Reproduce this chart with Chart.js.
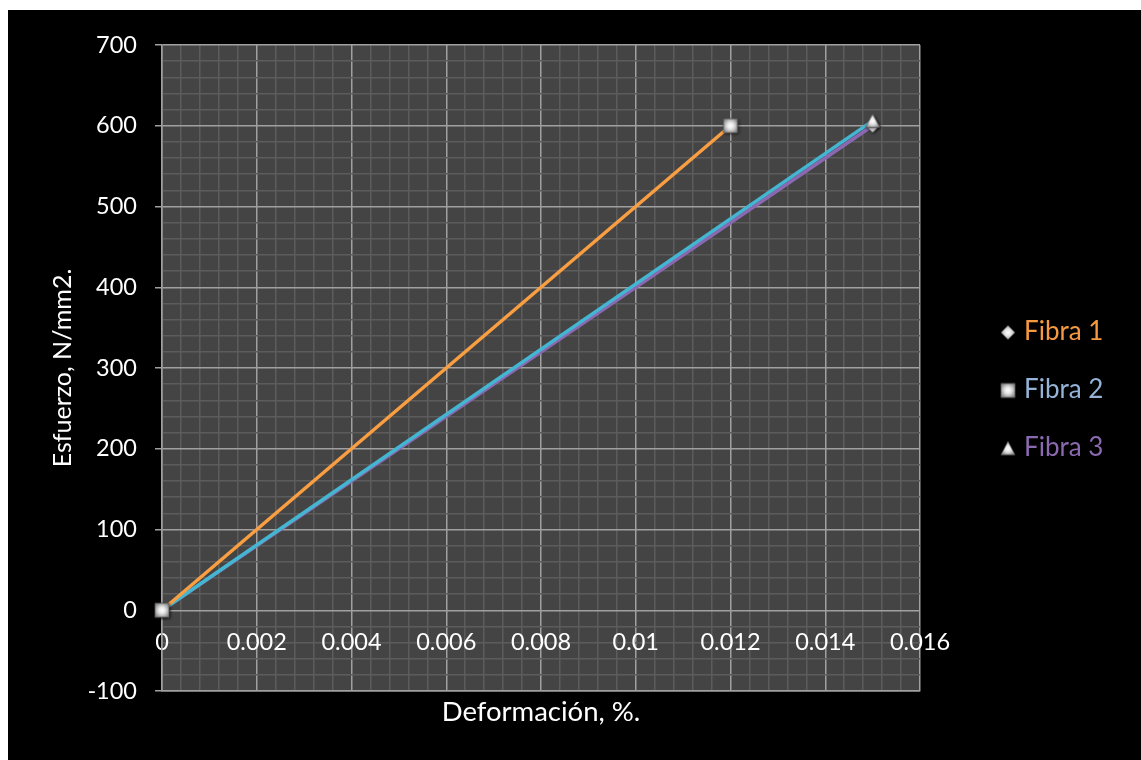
<!DOCTYPE html>
<html>
<head>
<meta charset="utf-8">
<title>Esfuerzo vs deformación</title>
<script src="https://cdn.jsdelivr.net/npm/chart.js@4/dist/chart.umd.min.js"></script>
<style>
  html, body { margin: 0; padding: 0; background: #ffffff; }
  #frame { position: absolute; left: 8px; top: 10px; width: 1133px; height: 750px; background: #000000; }
  #chart { display: block; }
</style>
</head>
<body>
<div id="frame"><canvas id="chart" width="1133" height="750"></canvas></div>
<script>
// Stress–strain readings for three fibres
const seriesNames = ['Fibra 1', 'Fibra 2', 'Fibra 3'];
const strainFibra1 = [0, 0.015];
const stressFibra1 = [0, 600];
const strainFibra2 = [0, 0.012];
const stressFibra2 = [0, 600];
const strainFibra3 = [0, 0.015];
const stressFibra3 = [0, 606];

// Axis ranges and tick labels
const strainTicks = [0, 0.002, 0.004, 0.006, 0.008, 0.01, 0.012, 0.014, 0.016];
const stressTicks = [-100, 0, 100, 200, 300, 400, 500, 600, 700];

const FONT = 'Lato, "Noto Sans", "DejaVu Sans", sans-serif';
Chart.defaults.font.family = FONT;
Chart.defaults.color = '#ffffff';

const lineColors = ['#8b68b2', '#fa9e42', '#43b6d2'];
const legendTextColors = ['#f7993f', '#95b3d7', '#8a69b0'];

// Bevelled grey marker drawn once and reused for points and legend
function markerImage(shape) {
  const size = 22, m = size / 2, r = 7;
  const c = document.createElement('canvas');
  c.width = c.height = size;
  const g = c.getContext('2d');
  g.beginPath();
  if (shape === 'diamond') {
    g.moveTo(m, m - r); g.lineTo(m + r, m); g.lineTo(m, m + r); g.lineTo(m - r, m);
  } else if (shape === 'square') {
    g.rect(m - r, m - r, 2 * r, 2 * r);
  } else {
    g.moveTo(m, m - r); g.lineTo(m + r, m + r * 0.9); g.lineTo(m - r, m + r * 0.9);
  }
  g.closePath();
  g.shadowColor = 'rgba(0,0,0,0.75)';
  g.shadowBlur = 3;
  g.shadowOffsetX = 1;
  g.shadowOffsetY = 1;
  const grad = g.createRadialGradient(m, m, 0, m, m, r * 1.35);
  grad.addColorStop(0, '#ffffff');
  grad.addColorStop(0.35, '#e4e4e4');
  grad.addColorStop(1, '#6f6f6f');
  g.fillStyle = grad;
  g.fill();
  g.shadowColor = 'transparent';
  g.lineWidth = 1;
  g.strokeStyle = 'rgba(90,90,90,0.8)';
  g.stroke();
  return c;
}
const markers = [markerImage('diamond'), markerImage('square'), markerImage('triangle')];

function toPoints(xs, ys) { return xs.map((x, i) => ({ x: x, y: ys[i] })); }

const isMajor = (v, step) => Math.abs(v / step - Math.round(v / step)) < 1e-6;
const MAJOR = '#a0a0a0', MINOR = '#5c5c5c';

// Legend on the right with its own text colours
const sideLegend = {
  id: 'sideLegend',
  afterDraw(chart) {
    const { ctx, chartArea } = chart;
    const x = chartArea.right + 88;
    ctx.save();
    ctx.font = '26px ' + FONT;
    ctx.textAlign = 'left';
    ctx.textBaseline = 'alphabetic';
    chart.data.datasets.forEach((ds, i) => {
      const y = chartArea.top + 285 + i * 58;
      const img = markers[i];
      ctx.drawImage(img, x - img.width / 2, y + 2.5 - img.height / 2);
      ctx.fillStyle = legendTextColors[i];
      ctx.fillText(ds.label, x + 16, y + 9.5);
    });
    ctx.restore();
  }
};

// Plot-area fill
const plotFill = {
  id: 'plotFill',
  beforeDraw(chart) {
    const { ctx, chartArea: a } = chart;
    ctx.save();
    ctx.fillStyle = '#444444';
    ctx.fillRect(a.left, a.top, a.right - a.left, a.bottom - a.top);
    ctx.restore();
  }
};

new Chart(document.getElementById('chart'), {
  type: 'line',
  data: {
    datasets: [
      { label: seriesNames[0], data: toPoints(strainFibra1, stressFibra1), borderColor: lineColors[0], pointStyle: markers[0], order: 2 },
      { label: seriesNames[1], data: toPoints(strainFibra2, stressFibra2), borderColor: lineColors[1], pointStyle: markers[1], order: 0 },
      { label: seriesNames[2], data: toPoints(strainFibra3, stressFibra3), borderColor: lineColors[2], pointStyle: markers[2], order: 1 }
    ]
  },
  options: {
    responsive: false,
    devicePixelRatio: 1,
    animation: false,
    events: [],
    layout: { padding: { top: 35, right: 221, bottom: 0, left: 0 } },
    datasets: {
      line: { borderWidth: 3.5, tension: 0, fill: false, clip: false, pointRadius: 7, showLine: true }
    },
    plugins: {
      legend: { display: false },
      tooltip: { enabled: false }
    },
    scales: {
      x: {
        type: 'linear',
        position: 'bottom',
        min: strainTicks[0],
        max: strainTicks[strainTicks.length - 1],
        afterFit: (s) => { s.height = 69; },
        ticks: { display: false, stepSize: 0.0004, autoSkip: false },
        grid: {
          drawTicks: false,
          lineWidth: 1.5,
          color: (c) => isMajor(c.tick.value, 0.002) ? MAJOR : MINOR
        },
        border: { display: true, color: MAJOR, width: 1.5 },
        title: {
          display: true,
          text: 'Deformación, %.',
          color: '#ffffff',
          font: { size: 27.5, lineHeight: 1.2 },
          padding: { top: 0, bottom: 31 }
        }
      },
      xLabels: {
        type: 'linear',
        axis: 'x',
        position: { y: 0 },
        min: strainTicks[0],
        max: strainTicks[strainTicks.length - 1],
        afterBuildTicks: (s) => { s.ticks = strainTicks.map(v => ({ value: v })); },
        ticks: {
          autoSkip: false,
          maxRotation: 0,
          padding: 18,
          color: '#ffffff',
          font: { size: 23.5 },
          callback: (v) => String(Number(v.toFixed(4)))
        },
        grid: { display: false, drawTicks: false },
        border: { display: false }
      },
      y: {
        type: 'linear',
        position: 'left',
        min: stressTicks[0],
        max: stressTicks[stressTicks.length - 1],
        afterFit: (s) => { s.width = 154; },
        ticks: {
          stepSize: 20,
          autoSkip: false,
          padding: 18,
          color: '#ffffff',
          font: { size: 23.5 },
          callback: (v) => stressTicks.includes(v) ? String(v) : ''
        },
        grid: {
          drawTicks: true,
          tickLength: 7,
          lineWidth: 1.5,
          color: (c) => isMajor(c.tick.value, 100) ? MAJOR : MINOR,
          tickColor: (c) => isMajor(c.tick.value, 100) ? MAJOR : 'rgba(0,0,0,0)'
        },
        border: { display: true, color: MAJOR, width: 1.5 },
        title: {
          display: true,
          text: 'Esfuerzo, N/mm2.',
          color: '#ffffff',
          font: { size: 25, lineHeight: 1.2 },
          padding: { top: 40, bottom: 0 }
        }
      }
    }
  },
  plugins: [plotFill, sideLegend]
});
</script>
</body>
</html>
